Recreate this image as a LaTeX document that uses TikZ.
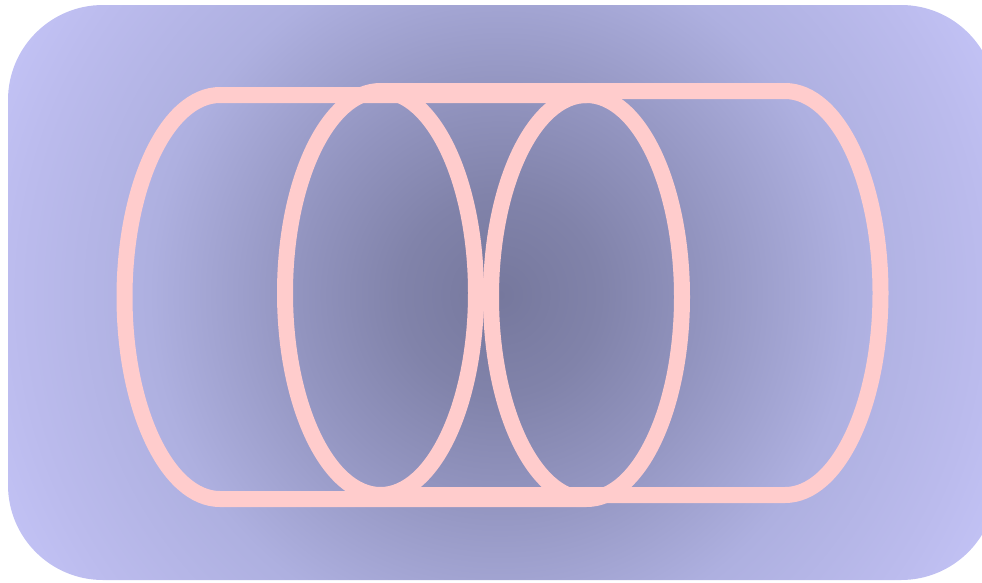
\documentclass[tikz,border=0pt]{standalone}
\usepackage{tikz}
\definecolor{pinkline}{RGB}{255,204,204}
\definecolor{sA}{RGB}{118,120,157}
\definecolor{sB}{RGB}{129,131,170}
\definecolor{sC}{RGB}{146,148,191}
\definecolor{sD}{RGB}{174,176,224}
\definecolor{sE}{RGB}{187,187,237}
\definecolor{sF}{RGB}{197,197,248}
\pgfdeclareradialshading{bgshade}{\pgfpoint{0bp}{0bp}}{%
  color(0bp)=(sA); color(100bp)=(sB); color(200bp)=(sC); color(350bp)=(sD);
  color(480bp)=(sE); color(570bp)=(sF); color(620bp)=(sF)}
\tikzset{
  cyl/.style={draw=pinkline, line width=16pt, line join=round, line cap=round},
}
\begin{document}
\begin{tikzpicture}[x=1pt,y=-1pt]
\useasboundingbox (0,0) rectangle (982,582);
\begin{scope}
  \clip[rounded corners=95pt] (8,5) rectangle (996,580);
  \path (500,295) node[inner sep=0pt, outer sep=0pt] (bg) {\pgfuseshading{bgshade}};
\end{scope}
% cylinder A
\path[cyl] (586.5,95) -- (220,95)
  arc[start angle=-90, end angle=-270, x radius=95.5, y radius=202]
  -- (586.5,499);
\path[cyl] (586.5,297) ellipse [x radius=95.5, y radius=202];
% cylinder B
\path[cyl] (380.5,293) ellipse [x radius=95.5, y radius=202];
\path[cyl] (380.5,91) -- (785,91)
  arc[start angle=-90, end angle=90, x radius=95.5, y radius=202]
  -- (380.5,495);
\end{tikzpicture}
\end{document}
